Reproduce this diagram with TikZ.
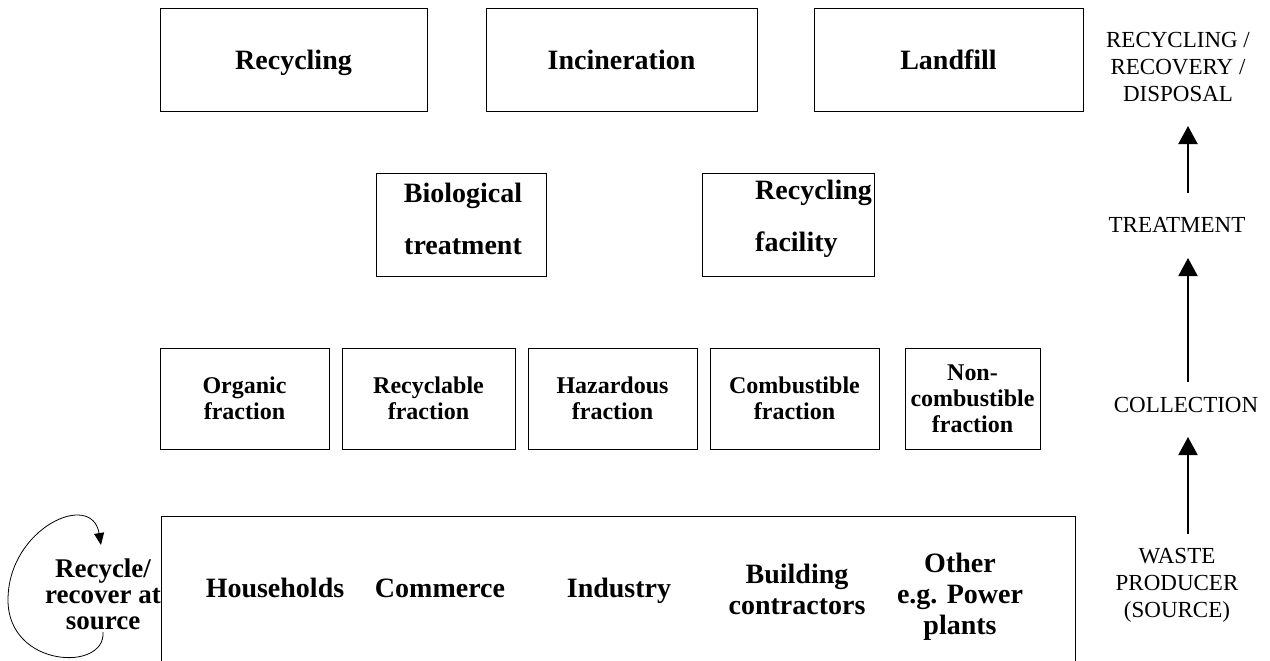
\documentclass[tikz,border=0pt]{standalone}
\usepackage{fontspec}
\setmainfont{Liberation Serif}
\usetikzlibrary{arrows.meta}
\begin{document}
\begin{tikzpicture}[x=1pt,y=-1pt,
  box/.style={draw, line width=0.8pt, inner sep=0pt, align=center},
  big/.style={font=\fontsize{28}{31}\selectfont\bfseries, align=center, inner sep=0pt},
  one/.style={font=\fontsize{28}{31}\selectfont\bfseries, inner sep=0pt, text height=20pt, text depth=6pt},
  topl/.style={box, font=\fontsize{28}{31}\selectfont\bfseries, text height=25pt, text depth=4pt},
  loopt/.style={font=\fontsize{27}{26}\selectfont\bfseries, align=center, inner sep=0pt},
  tall/.style={font=\fontsize{28}{52}\selectfont\bfseries, inner sep=0pt},
  frac/.style={font=\fontsize{24}{26}\selectfont\bfseries, align=center},
  lvl/.style={font=\fontsize{23}{27}\selectfont, align=center, inner sep=0pt},
  up/.style={-{Triangle[length=18pt,width=19pt]}, line width=2pt}]
\useasboundingbox (0,0) rectangle (1270,661);

% top row
\node[topl,minimum width=267pt,minimum height=103pt] (rec) at (293.5,59.5) {Recycling};
\node[topl,minimum width=271pt,minimum height=103pt] (inc) at (621.5,59.5) {Incineration};
\node[topl,minimum width=269pt,minimum height=103pt] (lan) at (948.5,59.5) {Landfill};

% treatment row
\node[box,minimum width=170pt,minimum height=103pt] (bio) at (461,224.5) {};
\node[tall,align=center] (biot) at (463,219) {Biological\\treatment};
\node[box,minimum width=172pt,minimum height=103pt] (rfa) at (788,224.5) {};
\node[tall,align=left,anchor=west] (rfat) at (755,219) {Recycling\\facility};

% fractions
\node[box,frac,minimum width=169pt,minimum height=101pt] (org) at (244.5,398.5) {Organic\\fraction};
\node[box,frac,minimum width=173pt,minimum height=101pt] (rcy) at (428.5,398.5) {Recyclable\\fraction};
\node[box,frac,minimum width=169pt,minimum height=101pt] (haz) at (612.5,398.5) {Hazardous\\fraction};
\node[box,frac,minimum width=169pt,minimum height=101pt] (com) at (794.5,398.5) {Combustible\\fraction};
\node[box,frac,minimum width=135pt,minimum height=101pt] (ncb) at (972.5,398.5) {Non-\\combustible\\fraction};

% producers box (open at the bottom)
\node[inner sep=0pt,minimum width=913pt,minimum height=144pt] (prod) at (618.5,589) {};
\draw[line width=0.8pt] (prod.south west) -- (prod.north west) -- (prod.north east) -- (prod.south east);
\node[one] (hh) at (275,590) {Households};
\node[one] (cm) at (440,590) {Commerce};
\node[one] (ind) at (619,590) {Industry};
\node[big] (bc) at (797,589) {Building\\contractors};
\node[big] (oth) at (960,597) {Other\\e.g. Power\\plants};

% recycle at source
\node[loopt] (rs) at (103,594) {Recycle/\\recover at\\source};
\coordinate (ls) at (103,632);
\coordinate (le) at (101,545);
\draw[line width=0.8pt,-{Triangle[length=12pt,width=10pt]}]
  (ls) .. controls (106,672) and (8,668) .. (8,600)
       .. controls (8,528) and (92,490) .. (le);

% right column
\node[lvl] (rrd) at (1178,67) {RECYCLING /\\RECOVERY /\\DISPOSAL};
\node[lvl] (trt) at (1177,225) {TREATMENT};
\node[lvl] (col) at (1186,405) {COLLECTION};
\node[lvl] (wp) at (1177,585) {WASTE\\PRODUCER\\(SOURCE)};
\coordinate (a1s) at (1188,193);
\coordinate (a1e) at (1188,126);
\coordinate (a2s) at (1188,382);
\coordinate (a2e) at (1188,258);
\coordinate (a3s) at (1188,534);
\coordinate (a3e) at (1188,437);
\draw[up] (a1s) -- (a1e);
\draw[up] (a2s) -- (a2e);
\draw[up] (a3s) -- (a3e);
\end{tikzpicture}
\end{document}
